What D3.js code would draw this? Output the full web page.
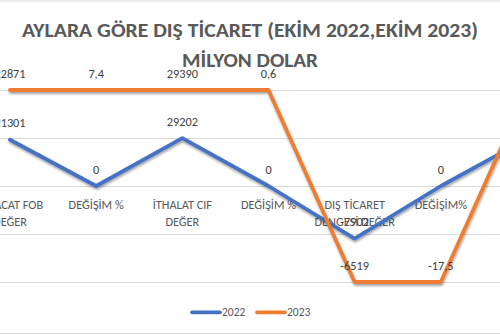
<!DOCTYPE html>
<html>
<head>
<meta charset="utf-8">
<script src="https://cdn.jsdelivr.net/npm/d3@7/dist/d3.min.js"></script>
<style>
  body { margin: 0; background: #fff; }
  svg { display: block; font-family: Carlito, Calibri, Lato, "Open Sans", sans-serif; }
</style>
</head>
<body>
<svg id="chart" width="500" height="335"></svg>
<script>
// Dış ticaret göstergeleri (Ekim 2022 / Ekim 2023), milyon dolar
const categories = [
  "İHRACAT FOB DEĞER",
  "DEĞİŞİM %",
  "İTHALAT CIF DEĞER",
  "DEĞİŞİM %",
  "DIŞ TİCARET DENGESİ DEĞER",
  "DEĞİŞİM%",
  "DIŞ TİCARET HACMİ"
];
// wrapped axis label lines for each category
const categoryLines = [
  ["İHRACAT FOB", "DEĞER"],
  ["DEĞİŞİM %"],
  ["İTHALAT CIF", "DEĞER"],
  ["DEĞİŞİM %"],
  ["DIŞ TİCARET", "DENGESİ DEĞER"],
  ["DEĞİŞİM%"],
  ["DIŞ", "TİCARET", "HACMİ"]
];
const values2022 = [21301, 0, 29202, 0, -7902, 0, 50503];
const values2023 = [22871, 7.4, 29390, 0.6, -6519, -17.5, 52261];
const seriesNames = ["2022", "2023"];
const seriesColors = ["#4472C4", "#ED7D31"];
const gridTicks = [-1, -0.5, 0, 0.5, 1];
const titleLines = ["AYLARA GÖRE DIŞ TİCARET (EKİM 2022,EKİM 2023)", "MİLYON DOLAR"];

const svg = d3.select("#chart");
const W = 500, H = 335;

// 100% stacked line: each series is cumulated and divided by the sum of absolute values
const raw = [values2022, values2023];
const stacked = raw.map(() => []);
categories.forEach((c, i) => {
  const total = d3.sum(raw, s => Math.abs(s[i]));
  let acc = 0;
  raw.forEach((s, k) => {
    acc += s[i];
    stacked[k].push({ i, value: s[i], share: total === 0 ? 0 : acc / total });
  });
});

const x = d3.scalePoint().domain(d3.range(categories.length)).range([10, 527]);
const y = d3.scaleLinear().domain([-1, 1]).range([282, 90]);

// drop shadow under the series lines
const defs = svg.append("defs");
defs.append("filter")
  .attr("id", "lineShadow")
  .attr("filterUnits", "userSpaceOnUse")
  .attr("x", -100).attr("y", 0).attr("width", 800).attr("height", H)
  .append("feDropShadow")
  .attr("dx", 0.6).attr("dy", 2).attr("stdDeviation", 1.3)
  .attr("flood-color", "#000").attr("flood-opacity", 0.35);

// chart area border (top / bottom edges)
svg.append("line").attr("x1", 0).attr("x2", W).attr("y1", 1).attr("y2", 1)
  .attr("stroke", "#d9d9d9").attr("stroke-width", 1);
svg.append("line").attr("x1", 0).attr("x2", W).attr("y1", 333.5).attr("y2", 333.5)
  .attr("stroke", "#d9d9d9").attr("stroke-width", 1);

// title
const title = svg.append("g").attr("fill", "#595959").attr("font-weight", "bold")
  .attr("font-size", 21).attr("text-anchor", "middle");
title.append("text").attr("x", 250).attr("y", 36.5).text(titleLines[0])
  .attr("textLength", 456).attr("lengthAdjust", "spacingAndGlyphs");
title.append("text").attr("x", 250).attr("y", 66.5).text(titleLines[1])
  .attr("textLength", 136).attr("lengthAdjust", "spacingAndGlyphs");

// horizontal gridlines
const yAxis = d3.axisLeft(y).tickValues(gridTicks).tickSize(-W).tickFormat("");
const gy = svg.append("g").call(yAxis);
gy.select(".domain").remove();
gy.selectAll(".tick line").attr("stroke", "#d9d9d9").attr("stroke-width", 1);

// category labels sitting under the zero line
const catG = svg.append("g").attr("fill", "#595959").attr("font-size", 12.3).attr("text-anchor", "middle");
categoryLines.forEach((lines, i) => {
  const t = catG.append("text").attr("x", x(i)).attr("y", y(0) + 23.3);
  lines.forEach((ln, j) => {
    t.append("tspan").attr("x", x(i)).attr("dy", j === 0 ? 0 : 17).text(ln);
  });
});

// series lines
const line = d3.line().x(d => x(d.i)).y(d => y(d.share));
svg.append("g").selectAll("path").data(stacked).join("path")
  .attr("d", line)
  .attr("fill", "none")
  .attr("stroke", (d, k) => seriesColors[k])
  .attr("stroke-width", 3.8)
  .attr("stroke-linejoin", "round")
  .attr("stroke-linecap", "round")
  .attr("filter", "url(#lineShadow)");

// data labels above each point
const fmt = v => String(v).replace(".", ",");
const lbl = svg.append("g").attr("fill", "#404040").attr("font-size", 12.3).attr("text-anchor", "middle");
stacked.forEach(s => {
  lbl.selectAll(null).data(s).join("text")
    .attr("x", d => x(d.i))
    .attr("y", d => y(d.share) - 12.5)
    .text(d => fmt(d.value));
});

// legend
const leg = svg.append("g").attr("font-size", 11.5).attr("fill", "#595959");
const legX = [192, 257];
seriesNames.forEach((n, k) => {
  leg.append("line").attr("x1", legX[k]).attr("x2", legX[k] + 28)
    .attr("y1", 312.3).attr("y2", 312.3)
    .attr("stroke", seriesColors[k]).attr("stroke-width", 3.8).attr("stroke-linecap", "round");
  leg.append("text").attr("x", legX[k] + 30).attr("y", 316.3).text(n);
});
</script>
</body>
</html>
